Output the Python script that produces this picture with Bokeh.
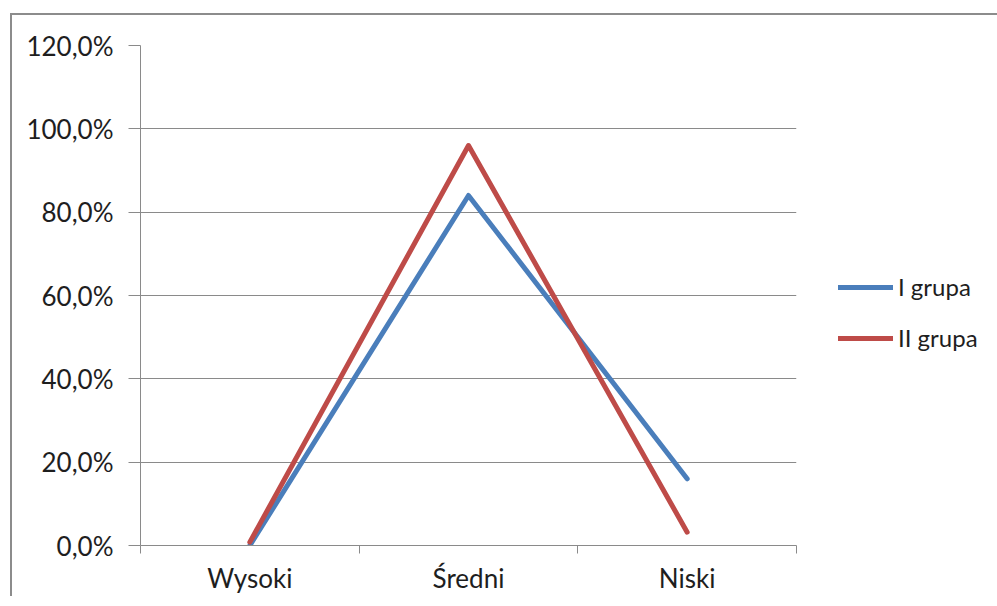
from bokeh.plotting import figure
from bokeh.models import FixedTicker, Legend, LegendItem, Range1d
from bokeh.embed import file_html
from bokeh.resources import INLINE

categories = ["Wysoki", "Średni", "Niski"]
grupa_1 = [0.0, 84.0, 16.0]
grupa_2 = [0.8, 96.0, 3.2]
series_names = ["I grupa", "II grupa"]
y_ticks = [0, 20, 40, 60, 80, 100, 120]
y_tick_labels = ["0,0%", "20,0%", "40,0%", "60,0%", "80,0%", "100,0%", "120,0%"]

FONT = "Lato"
TEXT = "#1e1e1e"
GRID = "#8a8a8a"
FRAME = "#8c8c8c"

x_pos = [i + 0.5 for i in range(len(categories))]

p = figure(frame_width=656, frame_height=500, output_backend="svg", toolbar_location=None,
           x_range=Range1d(0, len(categories)), y_range=Range1d(0, 120),
           min_border_left=140, min_border_right=0, min_border_top=45, min_border_bottom=45)
p.border_fill_color = None
p.background_fill_color = "white"
p.styles = {
    "background": (f"linear-gradient({FRAME},{FRAME}) 10px 13px / 2px 100% no-repeat, "
                   f"linear-gradient({FRAME},{FRAME}) 10px 13px / 100% 2px no-repeat, white"),
}
p.outline_line_color = None

r1 = p.line(x_pos, grupa_1, line_color="#4a7ebb", line_width=5, line_cap="round", line_join="round")
r2 = p.line(x_pos, grupa_2, line_color="#be4b48", line_width=5, line_cap="round", line_join="round")

# y axis
p.yaxis.ticker = FixedTicker(ticks=y_ticks)
p.yaxis.major_label_overrides = {t: l for t, l in zip(y_ticks, y_tick_labels)}
p.yaxis.major_tick_out = 12
p.yaxis.major_tick_in = 0
p.yaxis.minor_tick_out = 0
p.yaxis.minor_tick_in = 0
p.yaxis.axis_line_color = GRID
p.yaxis.major_tick_line_color = GRID
p.yaxis.major_label_standoff = 15
p.yaxis.major_label_text_font = FONT
p.yaxis.major_label_text_font_size = "26px"
p.yaxis.major_label_text_color = TEXT

# x axis
p.xaxis.ticker = FixedTicker(ticks=x_pos, minor_ticks=list(range(len(categories) + 1)))
p.xaxis.major_label_overrides = {x: c for x, c in zip(x_pos, categories)}
p.xaxis.major_tick_out = 0
p.xaxis.major_tick_in = 0
p.xaxis.minor_tick_out = 8
p.xaxis.minor_tick_in = 0
p.xaxis.minor_tick_line_color = GRID
p.xaxis.axis_line_color = GRID
p.xaxis.major_label_standoff = 8
p.xaxis.major_label_text_font = FONT
p.xaxis.major_label_text_font_size = "26px"
p.xaxis.major_label_text_color = TEXT

p.xgrid.visible = False
p.ygrid.ticker = FixedTicker(ticks=y_ticks)
p.ygrid.grid_line_color = GRID
p.ygrid.grid_line_width = 1

legend = Legend(items=[LegendItem(label=series_names[0], renderers=[r1]),
                       LegendItem(label=series_names[1], renderers=[r2])],
                location=(42, 193), orientation="vertical")
legend.glyph_width = 55
legend.glyph_height = 24
legend.label_height = 24
legend.spacing = 22
legend.padding = 0
legend.margin = 0
legend.label_standoff = 5
legend.border_line_color = None
legend.background_fill_alpha = 0
legend.label_text_font = FONT
legend.label_text_font_size = "24px"
legend.label_text_color = TEXT
p.add_layout(legend, "right")

open("out.html", "w").write(file_html(p, INLINE))
